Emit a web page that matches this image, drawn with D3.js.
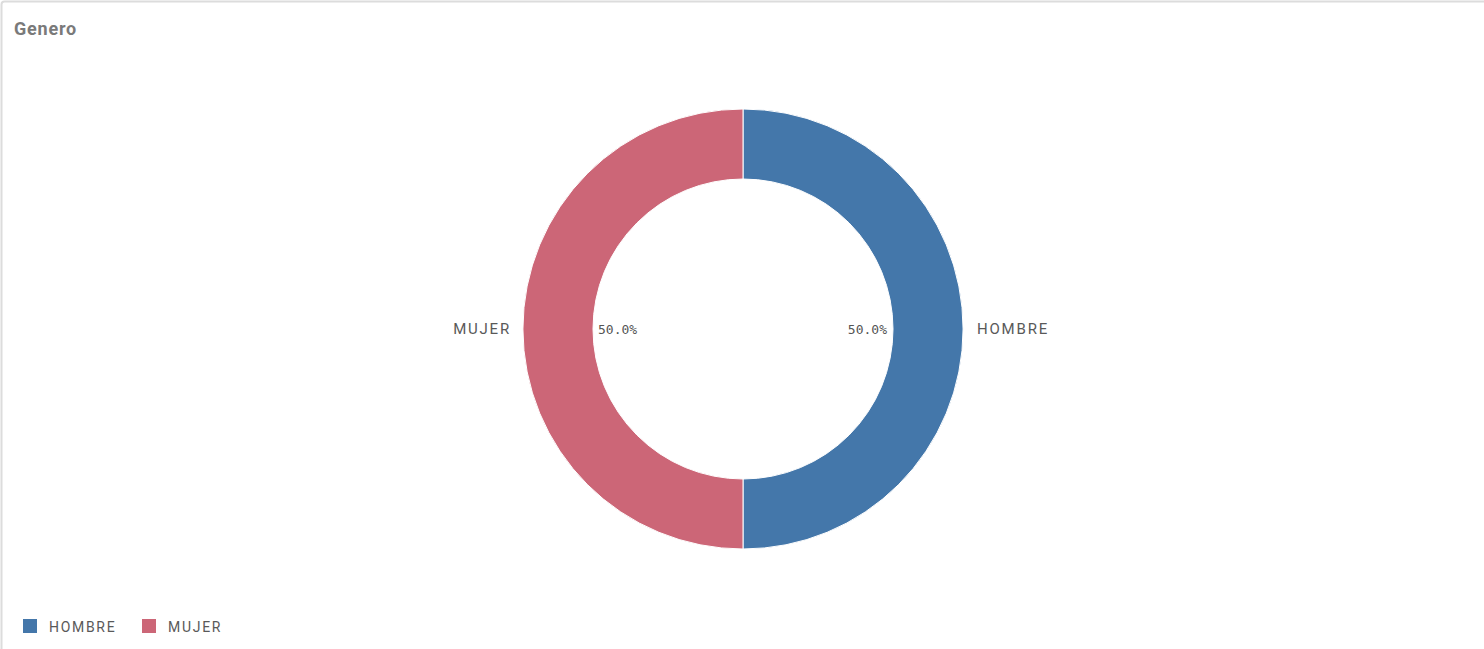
<!DOCTYPE html>
<html>
<head>
<meta charset="utf-8">
<script src="https://cdn.jsdelivr.net/npm/d3@7"></script>
<style>
  body { margin: 0; background: #fff; }
  svg { display: block; }
</style>
</head>
<body>
<script>
    // chart data
    var categories = ["HOMBRE", "MUJER"];
    var values = [50, 50];
    var colors = ["#4477aa", "#cc6677"];

    var w = 1484, h = 649;
    var cx = 743, cy = 329, outerR = 220, innerR = 150;

    var svg = d3.select("body").append("svg")
            .attr("width", w)
            .attr("height", h);

    // panel frame
    svg.append("rect")
        .attr("x", 1.5).attr("y", 1.5)
        .attr("width", w + 10).attr("height", h + 10)
        .attr("rx", 3)
        .attr("fill", "#fff")
        .attr("stroke", "#dcdcdc")
        .attr("stroke-width", 2);

    svg.append("text")
        .attr("x", 14).attr("y", 35)
        .attr("font-family", "Roboto, sans-serif")
        .attr("font-weight", "bold")
        .attr("font-size", 18)
        .attr("letter-spacing", 0.8)
        .attr("fill", "#7a7a7a")
        .text("Genero");

    var data = categories.map(function (c, i) { return {name: c, value: values[i]}; });
    var color = d3.scaleOrdinal().domain(categories).range(colors);

    var pie = d3.pie().sort(null).value(function (d) { return d.value; });
    var arc = d3.arc().innerRadius(innerR).outerRadius(outerR);
    var arcs = pie(data);
    var total = d3.sum(values);

    var g = svg.append("g").attr("transform", "translate(" + cx + "," + cy + ")");

    g.selectAll("path.slice")
        .data(arcs)
        .enter().append("path")
        .attr("class", "slice")
        .attr("d", arc)
        .attr("fill", function (d) { return color(d.data.name); })
        .attr("stroke", "#fff")
        .attr("stroke-width", 1);

    // percentage labels inside the ring
    g.selectAll("text.pct")
        .data(arcs)
        .enter().append("text")
        .attr("class", "pct")
        .attr("x", function (d) {
            var mid = (d.startAngle + d.endAngle) / 2;
            return Math.sin(mid) > 0 ? innerR - 6 : -innerR + 5;
        })
        .attr("y", 5)
        .attr("text-anchor", function (d) {
            var mid = (d.startAngle + d.endAngle) / 2;
            return Math.sin(mid) > 0 ? "end" : "start";
        })
        .attr("font-family", "DejaVu Sans Mono, monospace")
        .attr("font-size", 13)
        .attr("fill", "#555")
        .text(function (d) { return (d.data.value / total * 100).toFixed(1) + "%"; });

    // category labels outside
    g.selectAll("text.lbl")
        .data(arcs)
        .enter().append("text")
        .attr("class", "lbl")
        .attr("x", function (d) {
            var mid = (d.startAngle + d.endAngle) / 2;
            return Math.sin(mid) > 0 ? outerR + 14 : -outerR - 12;
        })
        .attr("y", 5)
        .attr("text-anchor", function (d) {
            var mid = (d.startAngle + d.endAngle) / 2;
            return Math.sin(mid) > 0 ? "start" : "end";
        })
        .attr("font-family", "Roboto, sans-serif")
        .attr("font-size", 15)
        .attr("letter-spacing", 1.8)
        .attr("fill", "#595959")
        .text(function (d) { return d.data.name; });

    // legend
    var legend = svg.append("g").attr("transform", "translate(23,619)");
    var item = legend.selectAll("g.item")
        .data(categories)
        .enter().append("g")
        .attr("class", "item")
        .attr("transform", function (d, i) { return "translate(" + (i * 119) + ",0)"; });

    item.append("rect")
        .attr("width", 14).attr("height", 14)
        .attr("fill", function (d) { return color(d); });

    item.append("text")
        .attr("x", 26).attr("y", 13)
        .attr("font-family", "Roboto, sans-serif")
        .attr("font-size", 14)
        .attr("letter-spacing", 1.7)
        .attr("fill", "#595959")
        .text(function (d) { return d; });
</script>
</body>
</html>
